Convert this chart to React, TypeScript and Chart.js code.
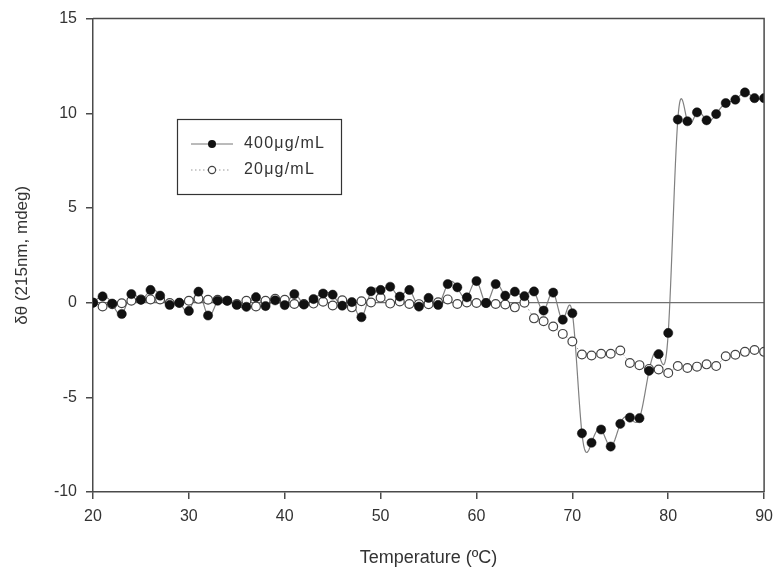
import React, { useEffect, useRef } from "react";
import { Chart, registerables } from "chart.js";

Chart.register(...registerables);

const temperatures: number[] = [
  20, 21, 22, 23, 24, 25, 26, 27, 28, 29, 30, 31, 32, 33, 34, 35, 36, 37, 38, 39,
  40, 41, 42, 43, 44, 45, 46, 47, 48, 49, 50, 51, 52, 53, 54, 55, 56, 57, 58, 59,
  60, 61, 62, 63, 64, 65, 66, 67, 68, 69, 70, 71, 72, 73, 74, 75, 76, 77, 78, 79,
  80, 81, 82, 83, 84, 85, 86, 87, 88, 89, 90,
];

const series400: number[] = [
  0.0, 0.33, -0.05, -0.6, 0.45, 0.15, 0.67, 0.37, -0.12, 0.0,
  -0.44, 0.58, -0.68, 0.1, 0.1, -0.12, -0.22, 0.29, -0.18, 0.12,
  -0.13, 0.45, -0.1, 0.19, 0.48, 0.42, -0.16, 0.03, -0.77, 0.6,
  0.67, 0.84, 0.32, 0.67, -0.21, 0.25, -0.12, 0.98, 0.81, 0.28,
  1.14, -0.02, 0.98, 0.37, 0.58, 0.34, 0.59, -0.42, 0.53, -0.9,
  -0.56, -6.9, -7.4, -6.7, -7.6, -6.4, -6.07, -6.1, -3.6, -2.72,
  -1.6, 9.67, 9.58, 10.05, 9.63, 9.96, 10.54, 10.72, 11.1, 10.8,
  10.8,
];

const series20: number[] = [
  0.0, -0.2, -0.08, -0.03, 0.1, 0.17, 0.17, 0.17, -0.02, -0.02,
  0.1, 0.2, 0.15, 0.15, 0.1, -0.07, 0.1, -0.2, 0.1, 0.2,
  0.15, -0.07, -0.07, -0.05, 0.05, -0.15, 0.12, -0.25, 0.07, 0.01,
  0.26, -0.05, 0.06, -0.07, -0.08, -0.08, 0.02, 0.17, -0.07, 0.01,
  -0.02, -0.02, -0.07, -0.1, -0.25, 0.0, -0.83, -0.98, -1.26, -1.65,
  -2.05, -2.74, -2.79, -2.7, -2.7, -2.53, -3.19, -3.3, -3.5, -3.53,
  -3.72, -3.35, -3.45, -3.38, -3.26, -3.35, -2.83, -2.75, -2.6, -2.5,
  -2.6,
];

const zeroLineX: number[] = [20, 90];
const zeroLineY: number[] = [0, 0];

const legendLabels: string[] = ["400\u03bcg/mL", "20\u03bcg/mL"];
const xTitle = "Temperature (\u00baC)";
const yTitle = "\u03b4\u03b8 (215nm, mdeg)";

const FONT = "'Liberation Sans', Arial, sans-serif";
const AXIS_COLOR = "#4a4a4a";
const TEXT_COLOR = "#333333";

// natural cubic spline second derivatives
function splineSecondDerivs(xs: number[], ys: number[]): number[] {
  const n = xs.length;
  const m = new Array(n).fill(0);
  const u = new Array(n).fill(0);
  for (let i = 1; i < n - 1; i++) {
    const sig = (xs[i] - xs[i - 1]) / (xs[i + 1] - xs[i - 1]);
    const p = sig * m[i - 1] + 2;
    m[i] = (sig - 1) / p;
    const d =
      (ys[i + 1] - ys[i]) / (xs[i + 1] - xs[i]) -
      (ys[i] - ys[i - 1]) / (xs[i] - xs[i - 1]);
    u[i] = ((6 * d) / (xs[i + 1] - xs[i - 1]) - sig * u[i - 1]) / p;
  }
  m[n - 1] = 0;
  for (let k = n - 2; k >= 0; k--) m[k] = m[k] * m[k + 1] + u[k];
  return m;
}

const splinePlugin = {
  id: "splineLine",
  beforeDatasetsDraw(chart: any) {
    const { ctx, chartArea, scales } = chart;
    const xs = temperatures;
    const ys = series400;
    const m2 = splineSecondDerivs(xs, ys);
    ctx.save();
    ctx.beginPath();
    ctx.rect(chartArea.left, chartArea.top, chartArea.right - chartArea.left, chartArea.bottom - chartArea.top);
    ctx.clip();
    ctx.strokeStyle = "#808080";
    ctx.lineWidth = 1.2;
    ctx.beginPath();
    const steps = 16;
    for (let i = 0; i < xs.length - 1; i++) {
      const h = xs[i + 1] - xs[i];
      for (let s = 0; s <= steps; s++) {
        if (i > 0 && s === 0) continue;
        const x = xs[i] + (h * s) / steps;
        const a = (xs[i + 1] - x) / h;
        const b = (x - xs[i]) / h;
        const y =
          a * ys[i] +
          b * ys[i + 1] +
          ((a * a * a - a) * m2[i] + (b * b * b - b) * m2[i + 1]) * (h * h) / 6;
        const px = scales.x.getPixelForValue(x);
        const py = scales.y.getPixelForValue(y);
        if (i === 0 && s === 0) ctx.moveTo(px, py);
        else ctx.lineTo(px, py);
      }
    }
    ctx.stroke();
    ctx.restore();
  },
};

const framePlugin = {
  id: "frame",
  afterDatasetsDraw(chart: any) {
    const { ctx, chartArea } = chart;
    ctx.save();
    ctx.strokeStyle = AXIS_COLOR;
    ctx.lineWidth = 1.5;
    ctx.beginPath();
    ctx.moveTo(chartArea.left, chartArea.top);
    ctx.lineTo(chartArea.right, chartArea.top);
    ctx.lineTo(chartArea.right, chartArea.bottom);
    ctx.stroke();
    ctx.restore();
  },
};

const legendPlugin = {
  id: "insetLegend",
  afterDraw(chart: any) {
    const { ctx } = chart;
    ctx.save();
    const bx = 177, by = 119, bw = 164, bh = 75;
    ctx.strokeStyle = "#333";
    ctx.lineWidth = 1.2;
    ctx.strokeRect(bx + 0.5, by + 0.5, bw, bh);
    const rows = [144, 170];
    ctx.strokeStyle = "#777";
    ctx.lineWidth = 1;
    ctx.setLineDash([]);
    ctx.beginPath();
    ctx.moveTo(191, rows[0]);
    ctx.lineTo(233, rows[0]);
    ctx.stroke();
    ctx.fillStyle = "#111";
    ctx.beginPath();
    ctx.arc(212, rows[0], 4, 0, Math.PI * 2);
    ctx.fill();
    ctx.strokeStyle = "#999";
    ctx.setLineDash([1.5, 2.5]);
    ctx.beginPath();
    ctx.moveTo(191, rows[1]);
    ctx.lineTo(230, rows[1]);
    ctx.stroke();
    ctx.setLineDash([]);
    ctx.fillStyle = "#fff";
    ctx.strokeStyle = "#444";
    ctx.lineWidth = 1.2;
    ctx.beginPath();
    ctx.arc(212, rows[1], 3.6, 0, Math.PI * 2);
    ctx.fill();
    ctx.stroke();
    ctx.fillStyle = TEXT_COLOR;
    ctx.font = `16px ${FONT}`;
    try {
      (ctx as any).letterSpacing = "1.2px";
    } catch (e) {}
    ctx.textBaseline = "middle";
    ctx.textAlign = "left";
    ctx.fillText(legendLabels[0], 244, rows[0]);
    ctx.fillText(legendLabels[1], 244, rows[1]);
    ctx.restore();
  },
};

export default function App() {
  const canvasRef = useRef<HTMLCanvasElement | null>(null);

  useEffect(() => {
    document.body.style.margin = "0";
    const canvas = canvasRef.current;
    if (!canvas) return;
    const chart = new Chart(canvas, {
      type: "line",
      data: {
        datasets: [
          {
            label: legendLabels[0],
            data: temperatures.map((t, i) => ({ x: t, y: series400[i] })),
            showLine: false,
            borderColor: "#111",
            backgroundColor: "#111",
            pointBackgroundColor: "#111",
            pointBorderColor: "#111",
            pointRadius: 4.6,
            pointBorderWidth: 0.5,
            fill: false,
          },
          {
            label: legendLabels[1],
            data: temperatures.map((t, i) => ({ x: t, y: series20[i] })),
            borderColor: "#9a9a9a",
            borderWidth: 1,
            borderDash: [1.5, 2.5],
            pointBackgroundColor: "#fff",
            pointBorderColor: "#444",
            pointRadius: 4.4,
            pointBorderWidth: 1.2,
            tension: 0,
            fill: false,
          },
          {
            label: "zero",
            data: zeroLineX.map((x, i) => ({ x, y: zeroLineY[i] })),
            borderColor: "#707070",
            borderWidth: 1.2,
            pointRadius: 0,
            tension: 0,
            fill: false,
          },
        ],
      },
      options: {
        animation: false,
        responsive: false,
        maintainAspectRatio: false,
        events: [],
        layout: { padding: { top: 17, right: 13, left: 0, bottom: 0 } },
        plugins: {
          legend: { display: false },
          tooltip: { enabled: false },
        },
        scales: {
          x: {
            type: "linear",
            min: 20,
            max: 90,
            afterFit: (scale: any) => {
              scale.height = 80;
            },
            ticks: {
              stepSize: 10,
              color: TEXT_COLOR,
              font: { family: FONT, size: 16 },
              padding: 8,
              maxRotation: 0,
            },
            grid: {
              drawOnChartArea: false,
              drawTicks: true,
              tickLength: 7,
              color: AXIS_COLOR,
              lineWidth: 1.5,
            },
            border: { display: true, color: AXIS_COLOR, width: 1.5 },
            title: {
              display: true,
              text: xTitle,
              color: TEXT_COLOR,
              font: { family: FONT, size: 18 },
              padding: { top: 4, bottom: 3 },
            },
          },
          y: {
            type: "linear",
            min: -10,
            max: 15,
            afterFit: (scale: any) => {
              scale.width = 93;
            },
            ticks: {
              stepSize: 5,
              color: TEXT_COLOR,
              font: { family: FONT, size: 16 },
              padding: 9,
            },
            grid: {
              drawOnChartArea: false,
              drawTicks: true,
              tickLength: 7,
              color: AXIS_COLOR,
              lineWidth: 1.5,
            },
            border: { display: true, color: AXIS_COLOR, width: 1.5 },
            title: {
              display: true,
              text: yTitle,
              color: TEXT_COLOR,
              font: { family: FONT, size: 17 },
              padding: { top: 12, bottom: 4 },
            },
          },
        },
      },
      plugins: [splinePlugin, framePlugin, legendPlugin],
    } as any);
    return () => chart.destroy();
  }, []);

  return (
    <div style={{ width: 781, height: 572, background: "#fff" }}>
      <canvas ref={canvasRef} width={781} height={572} style={{ display: "block" }} />
    </div>
  );
}
